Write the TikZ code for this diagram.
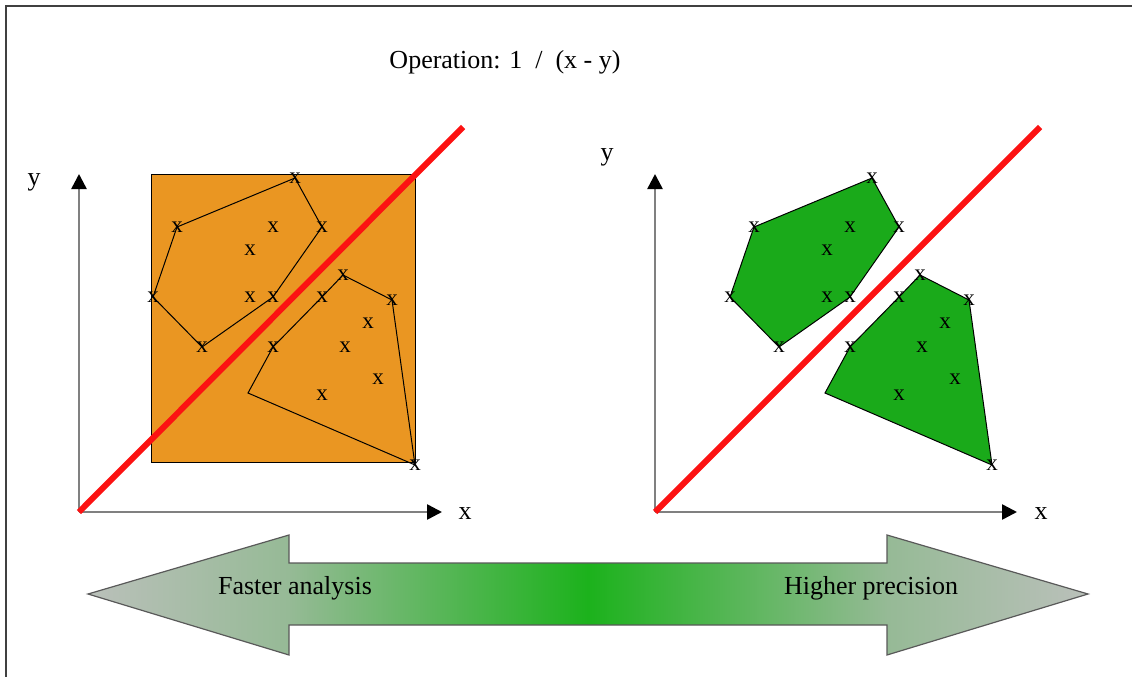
\documentclass[tikz,border=0pt]{standalone}
\usepackage{fontspec}
\setmainfont{Liberation Serif}
\usetikzlibrary{arrows.meta}
\definecolor{boxorange}{RGB}{234,150,34}
\definecolor{hullgreen}{RGB}{26,170,26}
\definecolor{cutred}{RGB}{252,18,18}
\definecolor{arrowgray}{RGB}{186,192,186}
\definecolor{midgreen}{RGB}{150,186,150}
\definecolor{arrowgreen}{RGB}{28,178,28}
\pgfdeclarehorizontalshading{tradeoff}{100bp}{color(0bp)=(arrowgray); color(25bp)=(arrowgray); color(35bp)=(midgreen); color(50bp)=(arrowgreen); color(65bp)=(midgreen); color(75bp)=(arrowgray); color(100bp)=(arrowgray)}
% sample points of one plot, named #1a ... #1u
\newcommand{\samplepoints}[1]{%
  \foreach \n/\px/\py in {a/177/227, b/295/178, c/322/227, d/273/297, e/202/347, f/153/297,
      g/273/227, h/250/250, i/250/297,
      k/248/393, l/273/347, m/322/297, n/343/275, p/392/300, q/415/465,
      r/368/323, s/345/347, t/378/379, u/322/395}
    {\coordinate (#1\n) at (\px,\py);}%
}
\newcommand{\markpoints}[1]{%
  \foreach \n in {a,b,c,d,e,f,g,h,i,l,m,n,p,q,r,s,t,u}
    \node[mark x] (#1x\n) at (#1\n) {x};%
}

\begin{document}
\begin{tikzpicture}[
  x=1pt, y=-1pt,
  every node/.style={font=\fontsize{26}{30}\selectfont},
  frame/.style={draw=black!75, line width=2},
  axis/.style={draw=black!50, line width=2.5, -{Triangle[length=15pt,width=15pt,color=black]}},
  cut/.style={draw=cutred, line width=6},
  hull/.style={draw=black, line width=1},
  mark x/.style={inner sep=0pt, font=\fontsize{23}{24}\selectfont},
  lbl/.style={inner sep=0pt},
  tradearrow/.style={shading=tradeoff, draw=black!65, line width=1.2}
]
\useasboundingbox (0,0) rectangle (1132,677);
\draw[frame] (6,677) -- (6,6) -- (1132,6);
\node (title) at (505,62) {Operation: 1 \ / \ (x - y)};

% left plot
\coordinate (Lorig) at (79,512);
\coordinate (Ly) at (79,174);
\coordinate (Lx) at (442,512);
\coordinate (Lcut) at (463,127);
\samplepoints{L}
\draw[hull, fill=boxorange] (151,174) rectangle (415,462);
\draw[hull] (La) -- (Lb) -- (Lc) -- (Ld) -- (Le) -- (Lf) -- cycle;
\draw[hull] (Lk) -- (Ll) -- (Lm) -- (Ln) -- (Lp) -- (Lq) -- cycle;
\draw[axis] (Lorig) -- (Ly);
\draw[axis] (Lorig) -- (Lx);
\draw[cut] (Lorig) -- (Lcut);
\markpoints{L}
\node[lbl] (Lylab) at (34,182) {y};
\node[lbl] (Lxlab) at (465,514) {x};

% right plot
\begin{scope}[xshift=577pt]
\coordinate (Rorig) at (78,512);
\coordinate (Ry) at (78,174);
\coordinate (Rx) at (440,512);
\coordinate (Rcut) at (463,127);
\samplepoints{R}
\draw[hull, fill=hullgreen] (Ra) -- (Rb) -- (Rc) -- (Rd) -- (Re) -- (Rf) -- cycle;
\draw[hull, fill=hullgreen] (Rk) -- (Rl) -- (Rm) -- (Rn) -- (Rp) -- (Rq) -- cycle;
\draw[axis] (Rorig) -- (Ry);
\draw[axis] (Rorig) -- (Rx);
\draw[cut] (Rorig) -- (Rcut);
\markpoints{R}
\node[lbl] (Rylab) at (30,157) {y};
\node[lbl] (Rxlab) at (464,514) {x};
\end{scope}

% trade-off arrow
\path[tradearrow] (88,594) -- (289,535) -- (289,563) -- (887,563) -- (887,535) -- (1088,594)
  -- (887,655) -- (887,625) -- (289,625) -- (289,655) -- cycle;
\node (fast) at (295,588) {Faster analysis};
\node (prec) at (871,588) {Higher precision};
\end{tikzpicture}
\end{document}
